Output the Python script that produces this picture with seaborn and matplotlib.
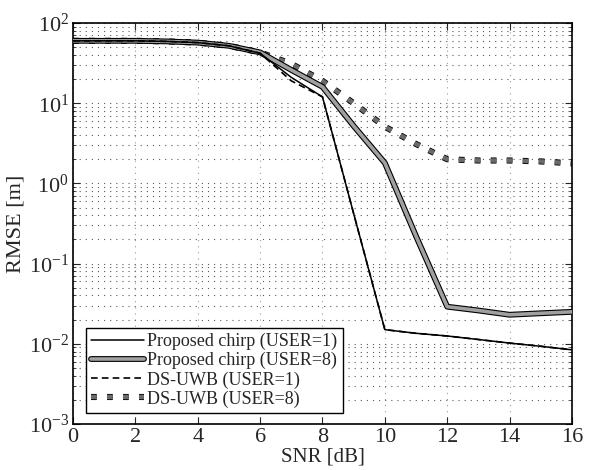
import numpy as np
import pandas as pd
import matplotlib
matplotlib.use("Agg")
import matplotlib.pyplot as plt
import matplotlib.patheffects as pe
from matplotlib.ticker import LogLocator, FixedLocator, NullFormatter
import seaborn as sns

# SNR grid [dB]
snr = list(range(0, 17))

# RMSE [m] for each scheme
chirp_user1 = [60, 60, 60, 59, 57, 52, 42, 21, 12, 0.42, 0.015, 0.0135,
               0.0125, 0.0113, 0.0102, 0.0093, 0.0084]
chirp_user8 = [60, 60, 60, 59, 57, 52, 43, 26, 16, 5.2, 1.8, 0.22,
               0.029, 0.026, 0.023, 0.024, 0.025]
dsuwb_user1 = [60, 60, 60, 59, 57, 52, 42, 19, 12, 0.42, 0.015, 0.0135,
               0.0125, 0.0113, 0.0102, 0.0093, 0.0084]
dsuwb_user8 = [60, 60, 60, 59, 57, 52, 43, 31, 19, 10, 5.1, 3.1,
               2.0, 1.93, 1.93, 1.88, 1.78]

labels = ["Proposed chirp (USER=1)", "Proposed chirp (USER=8)",
          "DS-UWB (USER=1)", "DS-UWB (USER=8)"]

df = pd.DataFrame({
    "SNR": snr * 4,
    "RMSE": chirp_user1 + chirp_user8 + dsuwb_user1 + dsuwb_user8,
    "scheme": sum([[lab] * len(snr) for lab in labels], []),
})

sns.set_style("ticks")
plt.rcParams["font.family"] = ["Liberation Serif", "DejaVu Serif"]
plt.rcParams["mathtext.fontset"] = "stix"

fig = plt.figure(figsize=(5.89, 4.70), dpi=100)
ax = fig.add_axes([0.124, 0.098, 0.847, 0.853])

outline = lambda w: [pe.Stroke(linewidth=w, foreground="black"), pe.Normal()]

styles = {
    labels[0]: dict(color="black", lw=1.1, ls="-", pe=None, z=4),
    labels[1]: dict(color="#a0a0a0", lw=2.6, ls="-", pe=outline(4.2), z=3),
    labels[2]: dict(color="black", lw=1.2, ls=(0, (4, 2.5)), pe=None, z=5),
    labels[3]: dict(color="#6a6a6a", lw=3.2, ls=(0, (1.3, 2.3)), pe=outline(4.4), z=2),
}

for lab in labels:
    st = styles[lab]
    sub = df[df["scheme"] == lab]
    sns.lineplot(data=sub, x="SNR", y="RMSE", ax=ax, color=st["color"],
                 linewidth=st["lw"], linestyle=st["ls"], label=lab,
                 zorder=st["z"], estimator=None, sort=False)
    line = ax.get_lines()[-1]
    line.set_dash_capstyle("butt")
    if st["pe"] is not None:
        line.set_path_effects(st["pe"])

ax.set_yscale("log")
ax.set_xlim(0, 16)
ax.set_ylim(1e-3, 1e2)
ax.xaxis.set_major_locator(FixedLocator(np.arange(0, 17, 2)))
ax.yaxis.set_major_locator(LogLocator(base=10, numticks=10))
ax.yaxis.set_minor_locator(LogLocator(base=10, subs=np.arange(2, 10), numticks=20))
ax.yaxis.set_minor_formatter(NullFormatter())

dots = (0, (1, 4.5))
ax.grid(which="major", axis="x", linestyle=dots, color="0.6", linewidth=0.8)
ax.grid(which="major", axis="y", linestyle=dots, color="0.35", linewidth=0.8)
ax.grid(which="minor", axis="y", linestyle=dots, color="0.35", linewidth=0.8)

ax.tick_params(which="major", direction="in", length=5, width=0.8,
               top=True, right=True, labelsize=16, pad=3)
ax.tick_params(which="minor", direction="in", length=2.5, width=0.6,
               left=True, right=True)
for s in ax.spines.values():
    s.set_linewidth(1.2)
    s.set_color("black")

ax.set_xlabel("SNR [dB]", fontsize=15, labelpad=0)
ax.set_ylabel("RMSE [m]", fontsize=16, labelpad=2)

leg = ax.legend(loc="lower left", bbox_to_anchor=(0.026, 0.027),
                borderaxespad=0, fontsize=13, handlelength=2.9,
                labelspacing=0.1, borderpad=0.3, handletextpad=0.2,
                fancybox=False, framealpha=1, edgecolor="black")
leg.get_frame().set_linewidth(1.0)
leg.set_zorder(10)

fig.savefig("out.png", dpi=100)
